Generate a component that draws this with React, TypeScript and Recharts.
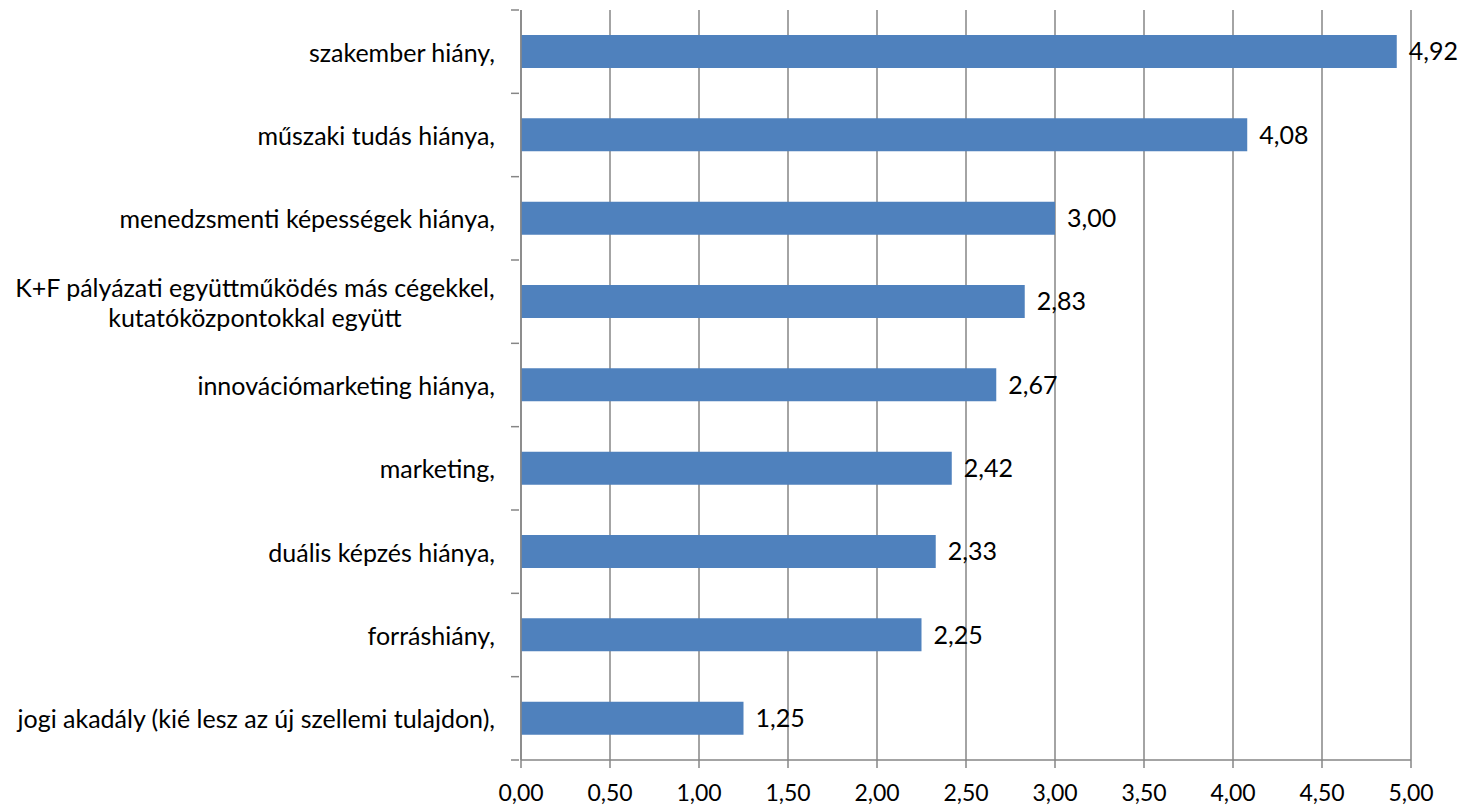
import React from "react";
import { BarChart, Bar, XAxis, YAxis, CartesianGrid, LabelList } from "recharts";

const categories = [
  "szakember hiány,",
  "műszaki tudás hiánya,",
  "menedzsmenti képességek hiánya,",
  "K+F pályázati együttműködés más cégekkel,\nkutatóközpontokkal együtt",
  "innovációmarketing hiánya,",
  "marketing,",
  "duális képzés hiánya,",
  "forráshiány,",
  "jogi akadály (kié lesz az új szellemi tulajdon),",
];
const values = [4.92, 4.08, 3.0, 2.83, 2.67, 2.42, 2.33, 2.25, 1.25];
const xTicks = [0, 0.5, 1, 1.5, 2, 2.5, 3, 3.5, 4, 4.5, 5];

const data = categories.map((c, i) => ({ name: c, value: values[i] }));

const W = 1460;
const H = 808;
const M = { top: 10, right: 49, bottom: 0, left: 0 };
const XH = 48;
const YW = 521;
const FONT = "Lato, 'Open Sans', sans-serif";
const FS = 25;
const XFS = 23;
const GRID = "#868686";

const fmt = (v: number) => v.toFixed(2).replace(".", ",");

let ctx: CanvasRenderingContext2D | null = null;
function measure(t: string) {
  if (!ctx) {
    const c = document.createElement("canvas");
    ctx = c.getContext("2d");
  }
  if (!ctx) return t.length * 10;
  ctx.font = `${FS}px ${FONT}`;
  return ctx.measureText(t).width;
}

const band = (H - M.top - M.bottom - XH) / categories.length;

const YTick = (props: any) => {
  const { x, y, payload, index } = props;
  const lines = String(payload.value).split("\n");
  const axisX = x + 8;
  const right = axisX - 24;
  const maxW = Math.max(...lines.map(measure));
  const lh = 30;
  const startY = y - ((lines.length - 1) * lh) / 2;
  return (
    <g>
      <line x1={axisX - 8} x2={axisX} y1={y - band / 2} y2={y - band / 2} stroke={GRID} strokeWidth={1.5} />
      {index === categories.length - 1 && (
        <line x1={axisX - 8} x2={axisX} y1={y + band / 2} y2={y + band / 2} stroke={GRID} strokeWidth={1.5} />
      )}
      {lines.map((l, i) =>
        lines.length > 1 ? (
          <text key={i} x={right - maxW / 2} y={startY + i * lh} textAnchor="middle" dominantBaseline="central" fontFamily={FONT} fontSize={FS} fill="#000">
            {l}
          </text>
        ) : (
          <text key={i} x={right} y={startY + i * lh} textAnchor="end" dominantBaseline="central" fontFamily={FONT} fontSize={FS} fill="#000">
            {l}
          </text>
        )
      )}
    </g>
  );
};

const XTick = (props: any) => {
  const { x, y, payload } = props;
  return (
    <text x={x} y={y + 22} textAnchor="middle" dominantBaseline="central" fontFamily={FONT} fontSize={XFS} fill="#000">
      {fmt(payload.value)}
    </text>
  );
};

export default function App() {
  return (
    <div style={{ position: "absolute", left: 0, top: 0, background: "#fff" }}>
      <BarChart
        width={W}
        height={H}
        data={data}
        layout="vertical"
        margin={M}
        barCategoryGap="30%"
      >
        <CartesianGrid horizontal={false} vertical={true} stroke={GRID} strokeWidth={1.5} />
        <XAxis
          type="number"
          domain={[0, 5]}
          ticks={xTicks}
          height={XH}
          axisLine={{ stroke: GRID, strokeWidth: 1.5 }}
          tickLine={{ stroke: GRID, strokeWidth: 1.5 }}
          tickSize={8}
          tick={<XTick />}
          interval={0}
        />
        <YAxis
          type="category"
          dataKey="name"
          width={YW}
          axisLine={{ stroke: GRID, strokeWidth: 1.5 }}
          tickLine={false}
          tickSize={8}
          tick={<YTick />}
          interval={0}
        />
        <Bar dataKey="value" fill="#4F81BD" isAnimationActive={false}>
          <LabelList
            dataKey="value"
            position="right"
            offset={12}
            formatter={(v: any) => fmt(Number(v))}
            style={{ fontFamily: FONT, fontSize: FS, fill: "#000" }}
          />
        </Bar>
      </BarChart>
    </div>
  );
}
